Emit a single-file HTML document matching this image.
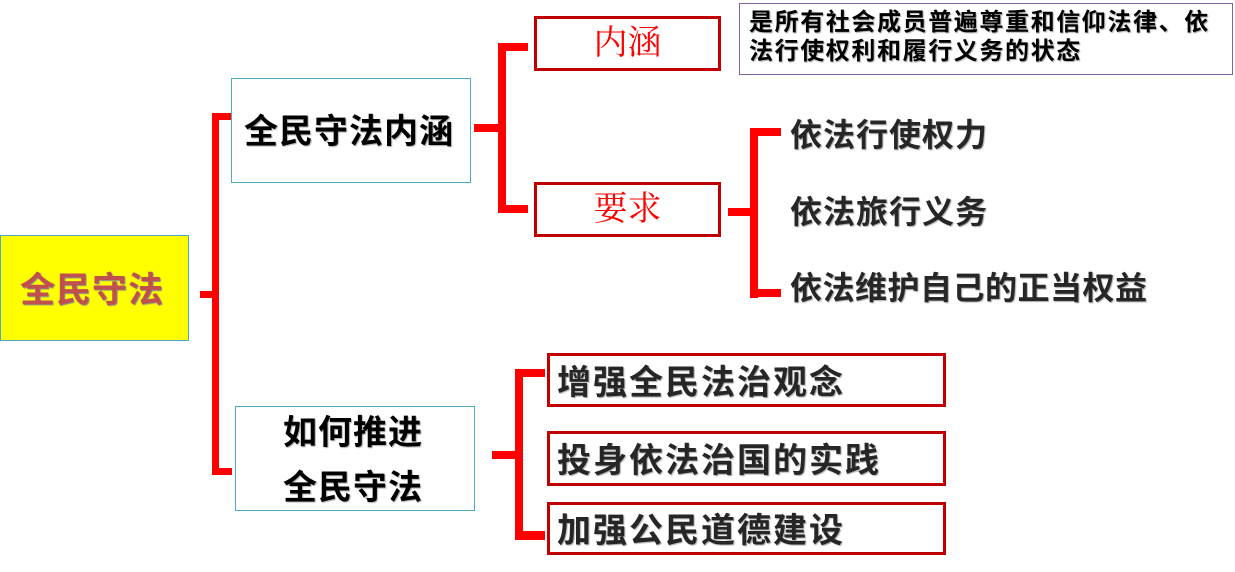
<!DOCTYPE html>
<html><head><meta charset="utf-8"><style>
body{margin:0;width:1235px;height:572px;background:#fff;position:relative;overflow:hidden;font-family:"Liberation Sans","Noto Sans CJK SC",sans-serif}
div{position:absolute;box-sizing:border-box}
.r{background:#ff0000}
.t{font-weight:bold;white-space:nowrap;color:#262626;text-shadow:1px 1px 1px #aaa}
.rb{border:3px solid #c00000;background:#fff}
.bb{border:1.5px solid #4bacc6;background:#fff}
.red{color:#ff0000;font-family:"Liberation Serif","Noto Serif CJK SC",serif;font-size:34px;text-align:center;line-height:48px}
</style></head><body>
<div style="left:0;top:235px;width:189px;height:106px;background:#ffff00;border:1.5px solid #4bacc6"></div>
<div class="t" style="left:20px;top:262px;font-size:35px;letter-spacing:1px;color:#c0504d;text-shadow:1px 1px 1px #888">全民守法</div>
<div class="r" style="left:200px;top:291px;width:15px;height:7px"></div>
<div class="r" style="left:212px;top:113px;width:7px;height:362px;border-radius:6px 0 0 6px"></div>
<div class="r" style="left:212px;top:113px;width:20px;height:7px"></div>
<div class="r" style="left:212px;top:468px;width:20px;height:7px"></div>
<div class="bb" style="left:231px;top:78px;width:240px;height:105px"></div>
<div class="t" style="left:244px;top:104px;font-size:34px;letter-spacing:1px;color:#000">全民守法内涵</div>
<div class="bb" style="left:235px;top:406px;width:240px;height:105px"></div>
<div class="t" style="left:283px;top:405px;font-size:34px;letter-spacing:1px;color:#000">如何推进</div>
<div class="t" style="left:283px;top:460px;font-size:34px;letter-spacing:1px;color:#000">全民守法</div>
<div class="r" style="left:474px;top:124px;width:26px;height:8px"></div>
<div class="r" style="left:498px;top:43px;width:8px;height:170px"></div>
<div class="r" style="left:498px;top:43px;width:30px;height:8px"></div>
<div class="r" style="left:498px;top:205px;width:30px;height:8px"></div>
<div class="rb" style="left:534px;top:16px;width:187px;height:55px"></div>
<div class="red" style="left:534px;top:20px;width:187px">内涵</div>
<div class="rb" style="left:534px;top:182px;width:187px;height:55px"></div>
<div class="red" style="left:534px;top:186px;width:187px">要求</div>
<div style="left:739px;top:3px;width:494px;height:72px;border:1.5px solid #8064a2"></div>
<div class="t" style="left:749px;top:8px;font-size:24px;letter-spacing:1.6px;line-height:29px;color:#000">是所有社会成员普遍尊重和信仰法律、依<br>法行使权利和履行义务的状态</div>
<div class="r" style="left:728px;top:208px;width:24px;height:8px"></div>
<div class="r" style="left:750px;top:128px;width:8px;height:170px"></div>
<div class="r" style="left:750px;top:128px;width:31px;height:8px"></div>
<div class="r" style="left:750px;top:289px;width:31px;height:8px"></div>
<div class="t" style="left:790px;top:110px;font-size:32px;letter-spacing:1px">依法行使权力</div>
<div class="t" style="left:790px;top:187px;font-size:32px;letter-spacing:1px">依法旅行义务</div>
<div class="t" style="left:790px;top:263px;font-size:32px;letter-spacing:0.5px">依法维护自己的正当权益</div>
<div class="r" style="left:492px;top:451px;width:25px;height:8px"></div>
<div class="r" style="left:515px;top:369px;width:8px;height:171px"></div>
<div class="r" style="left:515px;top:369px;width:30px;height:8px"></div>
<div class="r" style="left:515px;top:531px;width:30px;height:9px"></div>
<div class="rb" style="left:547px;top:353px;width:399px;height:54px"></div>
<div class="t" style="left:557px;top:355px;font-size:34px;letter-spacing:2px">增强全民法治观念</div>
<div class="rb" style="left:547px;top:431px;width:399px;height:55px"></div>
<div class="t" style="left:557px;top:433px;font-size:34px;letter-spacing:2px">投身依法治国的实践</div>
<div class="rb" style="left:547px;top:502px;width:399px;height:53px"></div>
<div class="t" style="left:557px;top:503px;font-size:34px;letter-spacing:2px">加强公民道德建设</div>
</body></html>
